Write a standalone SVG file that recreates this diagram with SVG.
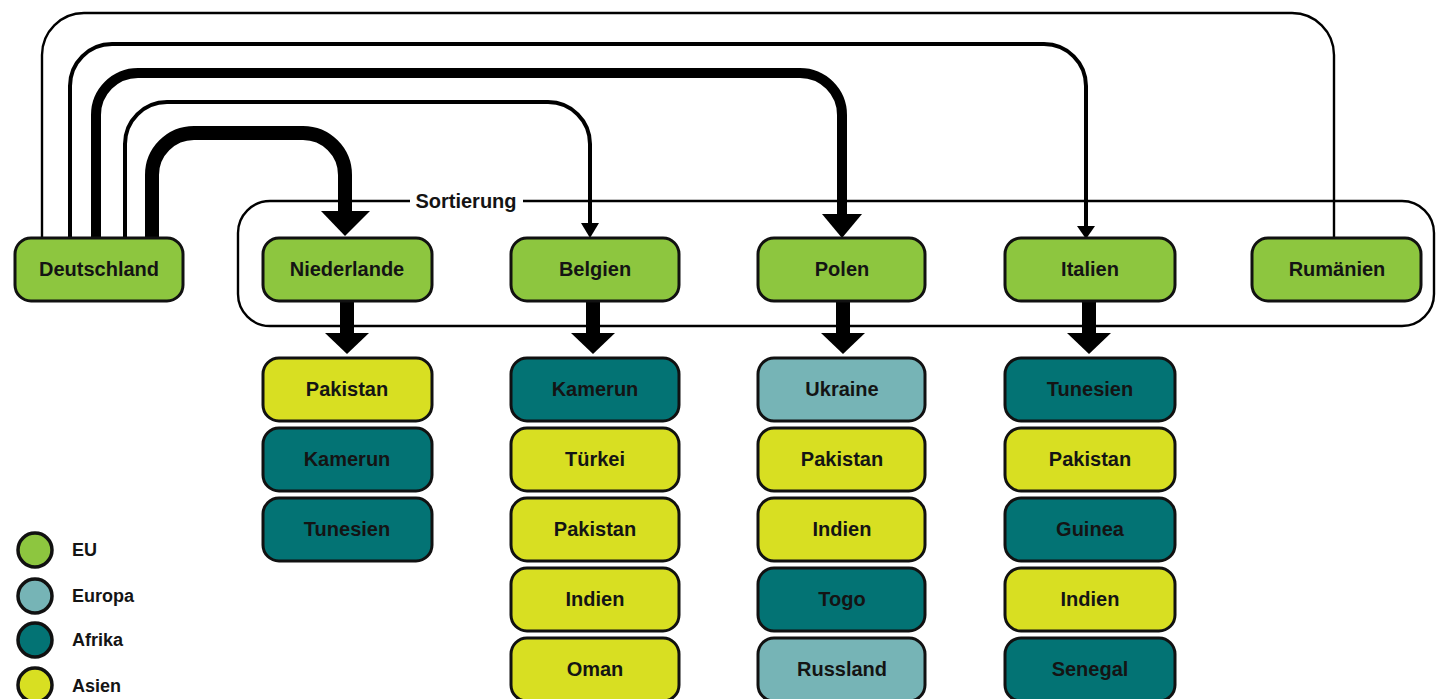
<svg xmlns="http://www.w3.org/2000/svg" width="1436" height="699" viewBox="0 0 1436 699">
<style>
.box{stroke:#111;stroke-width:3}
.lg{stroke:#111;stroke-width:3.5}
.eu{fill:#8dc63f}
.eur{fill:#76b4b6}
.afr{fill:#037374}
.asi{fill:#d8df22}
.t{font-family:"Liberation Sans",Arial,sans-serif;font-weight:bold;font-size:20px;fill:#141414;text-anchor:middle;dominant-baseline:central}
.lt{font-family:"Liberation Sans",Arial,sans-serif;font-weight:bold;font-size:18px;fill:#141414;dominant-baseline:central}
.c{fill:none;stroke:#000}
.h{fill:#000}
</style>
<rect width="1436" height="699" fill="#fff"/>

<g id="sortierung">
<rect x="238" y="201" width="1196" height="125" rx="32" fill="none" stroke="#000" stroke-width="2.4"/>
<rect x="410" y="190" width="113" height="22" fill="#fff"/>
<text class="t" x="466" y="201">Sortierung</text>
</g>

<g id="connectors">
<path class="c" stroke-width="2.4" d="M42,238 V55 A42,42 0 0 1 84,13 H1292 A42,42 0 0 1 1334,55 V238"/>
<path class="c" stroke-width="4" d="M70,238 V86 A42,42 0 0 1 112,44 H1044 A42,42 0 0 1 1086,86 V228"/>
<polygon class="h" points="1077,226 1095,226 1086,239"/>
<path class="c" stroke-width="10" d="M96,238 V115 A42,42 0 0 1 138,73 H800 A42,42 0 0 1 842,115 V216"/>
<polygon class="h" points="822,214 862,214 842,238"/>
<path class="c" stroke-width="4" d="M125,238 V144 A42,42 0 0 1 167,102 H548 A42,42 0 0 1 590,144 V225"/>
<polygon class="h" points="581,223 599,223 590,238"/>
<path class="c" stroke-width="14" d="M152,238 V175 A42,42 0 0 1 194,133 H303 A42,42 0 0 1 345,175 V213"/>
<polygon class="h" points="321,211 370,211 345,236"/>

<g id="down-arrows">
<rect class="h" x="340" y="300" width="14" height="35"/>
<polygon class="h" points="325,333 369,333 347,354"/>
<rect class="h" x="586" y="300" width="14" height="35"/>
<polygon class="h" points="571,333 615,333 593,354"/>
<rect class="h" x="836" y="300" width="14" height="35"/>
<polygon class="h" points="821,333 865,333 843,354"/>
<rect class="h" x="1082" y="300" width="14" height="35"/>
<polygon class="h" points="1067,333 1111,333 1089,354"/>
</g>
</g>

<g id="deutschland"><rect class="box eu" x="15" y="238" width="168" height="63" rx="16"/><text class="t" x="99" y="269">Deutschland</text></g>
<g id="niederlande"><rect class="box eu" x="263" y="238" width="169" height="63" rx="16"/><text class="t" x="347" y="269">Niederlande</text></g>
<g id="belgien"><rect class="box eu" x="511" y="238" width="168" height="63" rx="16"/><text class="t" x="595" y="269">Belgien</text></g>
<g id="polen"><rect class="box eu" x="758" y="238" width="167" height="63" rx="16"/><text class="t" x="842" y="269">Polen</text></g>
<g id="italien"><rect class="box eu" x="1005" y="238" width="170" height="63" rx="16"/><text class="t" x="1090" y="269">Italien</text></g>
<g id="rumaenien"><rect class="box eu" x="1252" y="238" width="169" height="63" rx="16"/><text class="t" x="1337" y="269">Rumänien</text></g>

<g id="nl-1"><rect class="box asi" x="263" y="358" width="169" height="63" rx="16"/><text class="t" x="347" y="389">Pakistan</text></g>
<g id="nl-2"><rect class="box afr" x="263" y="428" width="169" height="63" rx="16"/><text class="t" x="347" y="459">Kamerun</text></g>
<g id="nl-3"><rect class="box afr" x="263" y="498" width="169" height="63" rx="16"/><text class="t" x="347" y="529">Tunesien</text></g>

<g id="be-1"><rect class="box afr" x="511" y="358" width="168" height="63" rx="16"/><text class="t" x="595" y="389">Kamerun</text></g>
<g id="be-2"><rect class="box asi" x="511" y="428" width="168" height="63" rx="16"/><text class="t" x="595" y="459">Türkei</text></g>
<g id="be-3"><rect class="box asi" x="511" y="498" width="168" height="63" rx="16"/><text class="t" x="595" y="529">Pakistan</text></g>
<g id="be-4"><rect class="box asi" x="511" y="568" width="168" height="63" rx="16"/><text class="t" x="595" y="599">Indien</text></g>
<g id="be-5"><rect class="box asi" x="511" y="638" width="168" height="63" rx="16"/><text class="t" x="595" y="669">Oman</text></g>

<g id="pl-1"><rect class="box eur" x="758" y="358" width="167" height="63" rx="16"/><text class="t" x="842" y="389">Ukraine</text></g>
<g id="pl-2"><rect class="box asi" x="758" y="428" width="167" height="63" rx="16"/><text class="t" x="842" y="459">Pakistan</text></g>
<g id="pl-3"><rect class="box asi" x="758" y="498" width="167" height="63" rx="16"/><text class="t" x="842" y="529">Indien</text></g>
<g id="pl-4"><rect class="box afr" x="758" y="568" width="167" height="63" rx="16"/><text class="t" x="842" y="599">Togo</text></g>
<g id="pl-5"><rect class="box eur" x="758" y="638" width="167" height="63" rx="16"/><text class="t" x="842" y="669">Russland</text></g>

<g id="it-1"><rect class="box afr" x="1005" y="358" width="170" height="63" rx="16"/><text class="t" x="1090" y="389">Tunesien</text></g>
<g id="it-2"><rect class="box asi" x="1005" y="428" width="170" height="63" rx="16"/><text class="t" x="1090" y="459">Pakistan</text></g>
<g id="it-3"><rect class="box afr" x="1005" y="498" width="170" height="63" rx="16"/><text class="t" x="1090" y="529">Guinea</text></g>
<g id="it-4"><rect class="box asi" x="1005" y="568" width="170" height="63" rx="16"/><text class="t" x="1090" y="599">Indien</text></g>
<g id="it-5"><rect class="box afr" x="1005" y="638" width="170" height="63" rx="16"/><text class="t" x="1090" y="669">Senegal</text></g>

<g id="legend">
<circle class="lg eu" cx="35" cy="550" r="17"/><text class="lt" x="72" y="550">EU</text>
<circle class="lg eur" cx="35" cy="596" r="17"/><text class="lt" x="72" y="596">Europa</text>
<circle class="lg afr" cx="35" cy="640" r="17"/><text class="lt" x="72" y="640">Afrika</text>
<circle class="lg asi" cx="35" cy="685" r="17"/><text class="lt" x="72" y="686">Asien</text>
</g>
</svg>
